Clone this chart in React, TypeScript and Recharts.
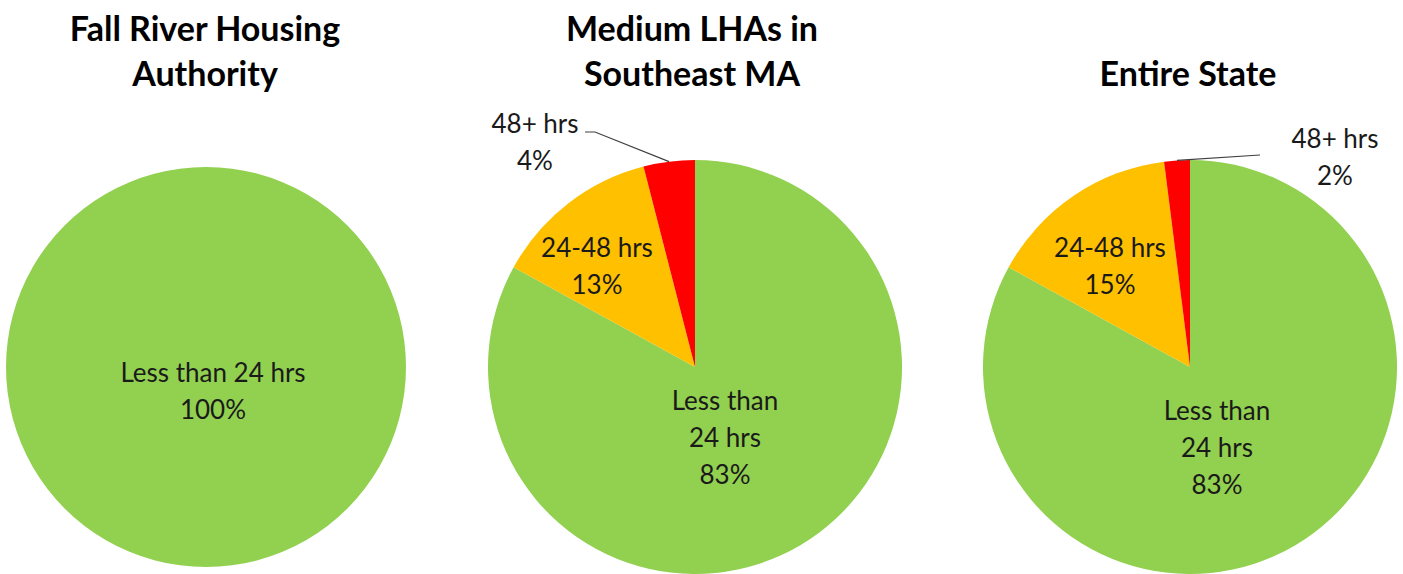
import { Pie, PieChart, Cell } from "recharts"

const categories = ["Less than 24 hrs", "24-48 hrs", "48+ hrs"]
const colors = ["#92D050", "#FFC000", "#FF0000"]

const titles = [
  ["Fall River Housing", "Authority"],
  ["Medium LHAs in", "Southeast MA"],
  ["Entire State"],
]

const fallRiver = [100]
const mediumSoutheast = [83, 13, 4]
const entireState = [83, 15, 2]

const toData = (values: number[]) =>
  values.map((v, i) => ({ name: categories[i], value: v }))

// label layout per pie: offset from pie center, whether to wrap the name
type LabelPos = { dx: number; dy: number; wrap?: boolean; line?: number[][] }

const MARGIN = { top: 0, right: 0, bottom: 0, left: 0 }

const pies = [
  {
    data: toData(fallRiver),
    cx: 206,
    cy: 367,
    r: 200,
    titleX: 205,
    labels: [{ dx: 7, dy: 5 }] as LabelPos[],
  },
  {
    data: toData(mediumSoutheast),
    cx: 695,
    cy: 367,
    r: 207,
    titleX: 692,
    labels: [
      { dx: 30, dy: 33, wrap: true },
      { dx: -98, dy: -120 },
      { dx: -160, dy: -244, line: [[-100, -235], [-110, -235]] },
    ] as LabelPos[],
  },
  {
    data: toData(entireState),
    cx: 1190,
    cy: 367,
    r: 207,
    titleX: 1188,
    labels: [
      { dx: 27, dy: 43, wrap: true },
      { dx: -80, dy: -120 },
      { dx: 145, dy: -229, line: [[70, -212]] },
    ] as LabelPos[],
  },
]

const RAD = Math.PI / 180
const FONT = "Lato, 'Open Sans', sans-serif"

function makeLabel(layout: LabelPos[]) {
  return (props: any) => {
    const { cx, cy, index, name, value } = props
    const pos = layout[index]
    if (!pos) return null
    let lines: string[] = [name]
    if (pos.wrap) {
      const k = name.indexOf(" 24")
      lines = [name.slice(0, k), name.slice(k + 1)]
    }
    lines = [...lines, `${value}%`]
    return (
      <text
        x={cx + pos.dx}
        y={cy + pos.dy}
        textAnchor="middle"
        fill="#1a1a1a"
        fontSize={26}
        fontFamily={FONT}
      >
        {lines.map((t, i) => (
          <tspan key={i} x={cx + pos.dx} y={cy + pos.dy + i * 37} dominantBaseline="central">
            {t}
          </tspan>
        ))}
      </text>
    )
  }
}

function makeLine(layout: LabelPos[]) {
  return (props: any) => {
    const { cx, cy, midAngle, outerRadius, index } = props
    const pos = layout[index]
    if (!pos || !pos.line) return <g />
    const sx = cx + outerRadius * Math.cos(-midAngle * RAD)
    const sy = cy + outerRadius * Math.sin(-midAngle * RAD)
    const pts = [[sx, sy], ...pos.line.map(([x, y]) => [cx + x, cy + y])]
    return (
      <polyline
        points={pts.map((p) => p.join(",")).join(" ")}
        fill="none"
        stroke="#404040"
        strokeWidth={1.2}
      />
    )
  }
}

export default function App() {
  return (
    <div style={{ position: "absolute", left: 0, top: 0, width: 1403, height: 574, background: "#fff" }}>
      {pies.map((p, i) => (
        <div
          key={i}
          style={{
            position: "absolute",
            left: p.titleX - 250,
            top: titles[i].length === 1 ? 49.5 : 4.5,
            width: 500,
            textAlign: "center",
            fontFamily: FONT,
            fontWeight: 700,
            fontSize: 34,
            lineHeight: "45px",
            color: "#000",
          }}
        >
          {titles[i].map((t, j) => (
            <div key={j}>{t}</div>
          ))}
        </div>
      ))}
      <PieChart width={1403} height={574} margin={MARGIN} style={{ position: "absolute", left: 0, top: 0 }}>
        {pies.map((p, i) => (
          <Pie
            key={i}
            data={p.data}
            dataKey="value"
            nameKey="name"
            cx={p.cx}
            cy={p.cy}
            outerRadius={p.r}
            startAngle={90}
            endAngle={-270}
            stroke="none"
            isAnimationActive={false}
            label={makeLabel(p.labels)}
            labelLine={makeLine(p.labels)}
          >
            {p.data.map((_, j) => (
              <Cell key={j} fill={colors[j]} />
            ))}
          </Pie>
        ))}
      </PieChart>
    </div>
  )
}
